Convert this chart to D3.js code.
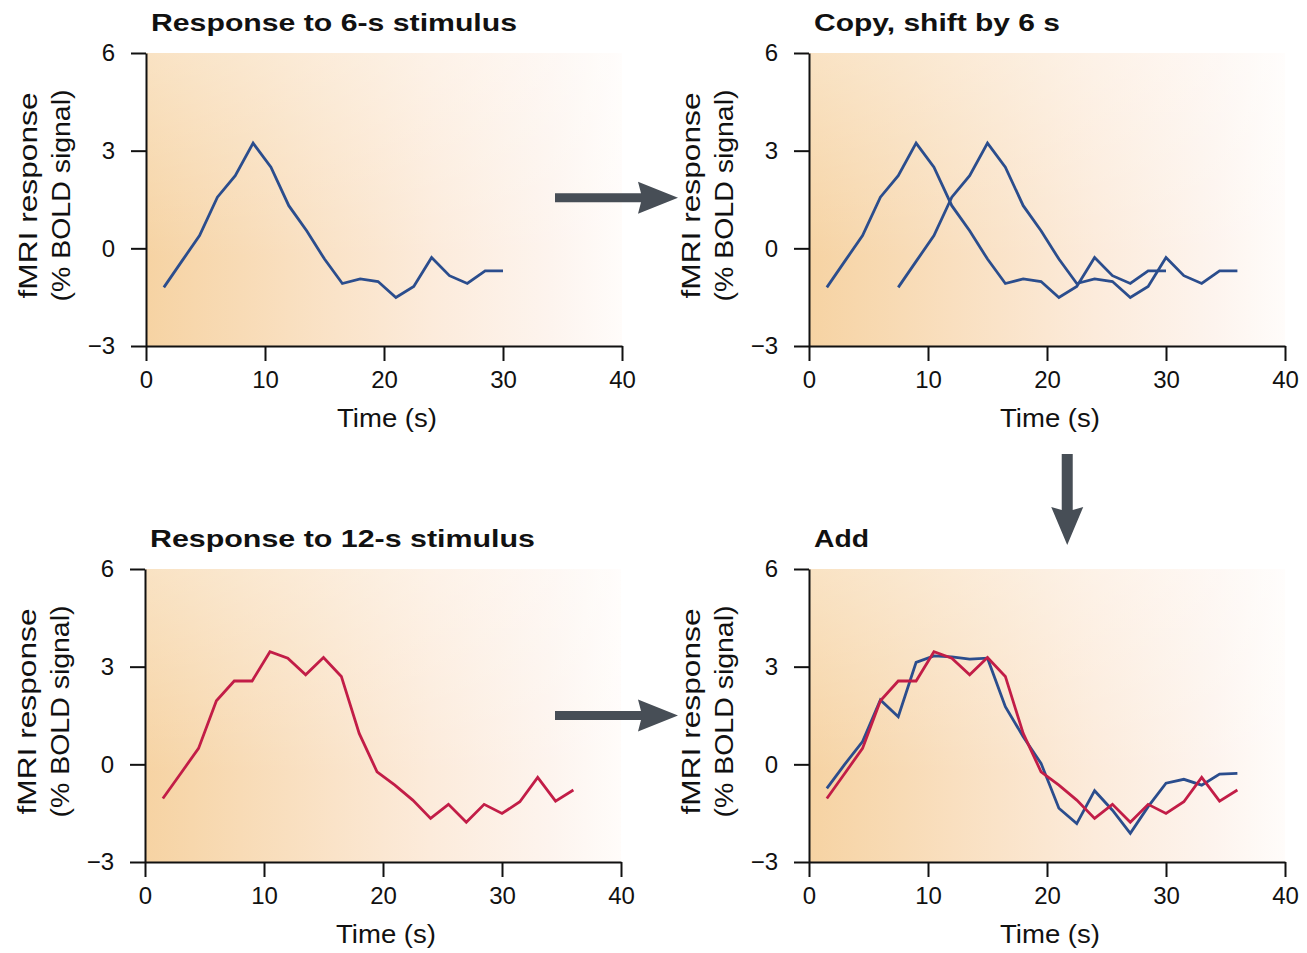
<!DOCTYPE html>
<html>
<head>
<meta charset="utf-8">
<script src="https://cdn.jsdelivr.net/npm/d3@7/dist/d3.min.js"></script>
<style>
  body { margin: 0; background: #fff; }
  svg text { font-family: "Liberation Sans", Arial, Helvetica, sans-serif; fill: #111; }
</style>
</head>
<body>
<div id="chart"></div>
<script>
// data (time in s, response in % BOLD signal)
var times6 = [1.5, 3, 4.5, 6, 7.5, 9, 10.5, 12, 13.5, 15, 16.5, 18, 19.5, 21, 22.5, 24, 25.5, 27, 28.5, 30];
var timesShifted = [7.5, 9, 10.5, 12, 13.5, 15, 16.5, 18, 19.5, 21, 22.5, 24, 25.5, 27, 28.5, 30, 31.5, 33, 34.5, 36];
var values6 = [-1.2, -0.4, 0.39, 1.57, 2.23, 3.23, 2.49, 1.31, 0.54, -0.33, -1.08, -0.94, -1.02, -1.51, -1.17, -0.28, -0.84, -1.08, -0.69, -0.69];

var times12 = [1.5, 3, 4.5, 6, 7.5, 9, 10.5, 12, 13.5, 15, 16.5, 18, 19.5, 21, 22.5, 24, 25.5, 27, 28.5, 30, 31.5, 33, 34.5, 36];
var values12 = [-1.05, -0.28, 0.49, 1.95, 2.56, 2.56, 3.46, 3.26, 2.75, 3.28, 2.70, 0.95, -0.23, -0.64, -1.10, -1.66, -1.23, -1.78, -1.23, -1.51, -1.15, -0.40, -1.13, -0.79];
var valuesSum = [-0.74, 0.0, 0.7, 1.98, 1.46, 3.13, 3.33, 3.3, 3.23, 3.26, 1.77, 0.85, 0.03, -1.35, -1.82, -0.81, -1.41, -2.12, -1.3, -0.58, -0.46, -0.64, -0.3, -0.28];

var xTicks = [0, 10, 20, 30, 40];
var yTicks = [-3, 0, 3, 6];
var titles = ["Response to 6-s stimulus", "Copy, shift by 6 s", "Response to 12-s stimulus", "Add"];

var blue = "#2b4d8d", red = "#c21d47", arrowGrey = "#474e56";

// set the dimensions of the page and panels
var W = 1307, H = 953,
    pw = 476, ph = 293;

var svg = d3.select("#chart").append("svg")
    .attr("width", W)
    .attr("height", H);

var defs = svg.append("defs");
var grad = defs.append("linearGradient").attr("id", "bg").attr("x1", 0).attr("x2", 1).attr("y1", 0).attr("y2", 0);
[[0, "#f6d3a3"], [0.3, "#f9dfbf"], [0.6, "#fcebdb"], [0.85, "#fdf4ee"], [1, "#fffcfa"]].forEach(function(s) {
  grad.append("stop").attr("offset", s[0]).attr("stop-color", s[1]);
});
var vgrad = defs.append("linearGradient").attr("id", "bgv").attr("x1", 0).attr("x2", 0).attr("y1", 0).attr("y2", 1);
vgrad.append("stop").attr("offset", 0).attr("stop-color", "#fff").attr("stop-opacity", 0.35);
vgrad.append("stop").attr("offset", 0.7).attr("stop-color", "#fff").attr("stop-opacity", 0);

var panels = [
  {left: 146, top: 53, title: titles[0], tlen: 366,
   series: [{t: times6, v: values6, c: blue}]},
  {left: 809, top: 53, title: titles[1], tlen: 246,
   series: [{t: times6, v: values6, c: blue}, {t: timesShifted, v: values6, c: blue}]},
  {left: 145, top: 569, title: titles[2], tlen: 385,
   series: [{t: times12, v: values12, c: red}]},
  {left: 809, top: 569, title: titles[3], tlen: 55,
   series: [{t: times12, v: valuesSum, c: blue}, {t: times12, v: values12, c: red}]}
];

panels.forEach(function(p) {
  var g = svg.append("g").attr("transform", "translate(" + p.left + "," + p.top + ")");

  var x = d3.scaleLinear().domain([0, 40]).range([0, pw]);
  var y = d3.scaleLinear().domain([-3, 6]).range([ph, 0]);
  p.x = x; p.y = y;

  g.append("rect").attr("width", pw).attr("height", ph).attr("fill", "url(#bg)");
  g.append("rect").attr("width", pw).attr("height", ph).attr("fill", "url(#bgv)");

  var line = d3.line().x(function(d) { return x(d[0]); }).y(function(d) { return y(d[1]); });
  p.series.forEach(function(s) {
    g.append("path")
      .datum(d3.zip(s.t, s.v))
      .attr("d", line)
      .attr("fill", "none")
      .attr("stroke", s.c)
      .attr("stroke-width", 2.8)
      .attr("stroke-linejoin", "miter");
  });

  var xa = g.append("g").attr("transform", "translate(0," + ph + ")")
    .call(d3.axisBottom(x).tickValues(xTicks).tickSize(15).tickSizeOuter(0).tickPadding(10));
  var ya = g.append("g")
    .call(d3.axisLeft(y).tickValues(yTicks).tickSize(15).tickSizeOuter(0).tickPadding(16));
  [xa, ya].forEach(function(a) {
    a.select(".domain").attr("stroke", "#111").attr("stroke-width", 2);
    a.selectAll(".tick line").attr("stroke", "#111").attr("stroke-width", 2);
    a.selectAll(".tick text").attr("font-size", 24).attr("font-family", null).attr("fill", "#222");
  });

  // title
  g.append("text")
    .attr("x", 5).attr("y", -22)
    .attr("font-size", 24).attr("font-weight", "bold")
    .attr("textLength", p.tlen).attr("lengthAdjust", "spacingAndGlyphs")
    .text(p.title);

  // x label
  g.append("text")
    .attr("x", pw / 2 + 3).attr("y", ph + 81)
    .attr("text-anchor", "middle").attr("font-size", 26).attr("fill", "#222")
    .attr("textLength", 100).attr("lengthAdjust", "spacingAndGlyphs")
    .text("Time (s)");

  // y label, two lines
  var yl = g.append("g").attr("transform", "translate(-109," + (ph / 2 - 4) + ") rotate(-90)");
  yl.append("text").attr("text-anchor", "middle").attr("font-size", 26).attr("fill", "#222")
    .attr("textLength", 206).attr("lengthAdjust", "spacingAndGlyphs")
    .text("fMRI response");
  yl.append("text").attr("y", 33).attr("text-anchor", "middle").attr("font-size", 26).attr("fill", "#222")
    .attr("textLength", 212).attr("lengthAdjust", "spacingAndGlyphs")
    .text("(% BOLD signal)");
});

// arrows between the panels
function arrowRight(x0, x1, yc) {
  var sh = 4.5, hh = 16, hl = 40, notch = 3;
  var p = d3.path();
  p.moveTo(x0, yc - sh);
  p.lineTo(x1 - hl + notch, yc - sh);
  p.lineTo(x1 - hl, yc - hh);
  p.lineTo(x1, yc);
  p.lineTo(x1 - hl, yc + hh);
  p.lineTo(x1 - hl + notch, yc + sh);
  p.lineTo(x0, yc + sh);
  p.closePath();
  svg.append("path").attr("d", p.toString()).attr("fill", arrowGrey);
}
function arrowDown(xc, y0, y1) {
  var sh = 5.5, hw = 16, hl = 38, notch = 3;
  var p = d3.path();
  p.moveTo(xc - sh, y0);
  p.lineTo(xc - sh, y1 - hl + notch);
  p.lineTo(xc - hw, y1 - hl);
  p.lineTo(xc, y1);
  p.lineTo(xc + hw, y1 - hl);
  p.lineTo(xc + sh, y1 - hl + notch);
  p.lineTo(xc + sh, y0);
  p.closePath();
  svg.append("path").attr("d", p.toString()).attr("fill", arrowGrey);
}

var p1 = panels[0], p2 = panels[1], p3 = panels[2];
arrowRight(p1.left + pw - 67, p1.left + pw + 56, p1.top + p1.y(1.55));
arrowRight(p3.left + pw - 66, p3.left + pw + 57, p3.top + p3.y(1.5));
arrowDown(p2.left + p2.x(21.7), p2.top + ph + 108, p2.top + ph + 199);
</script>
</body>
</html>
